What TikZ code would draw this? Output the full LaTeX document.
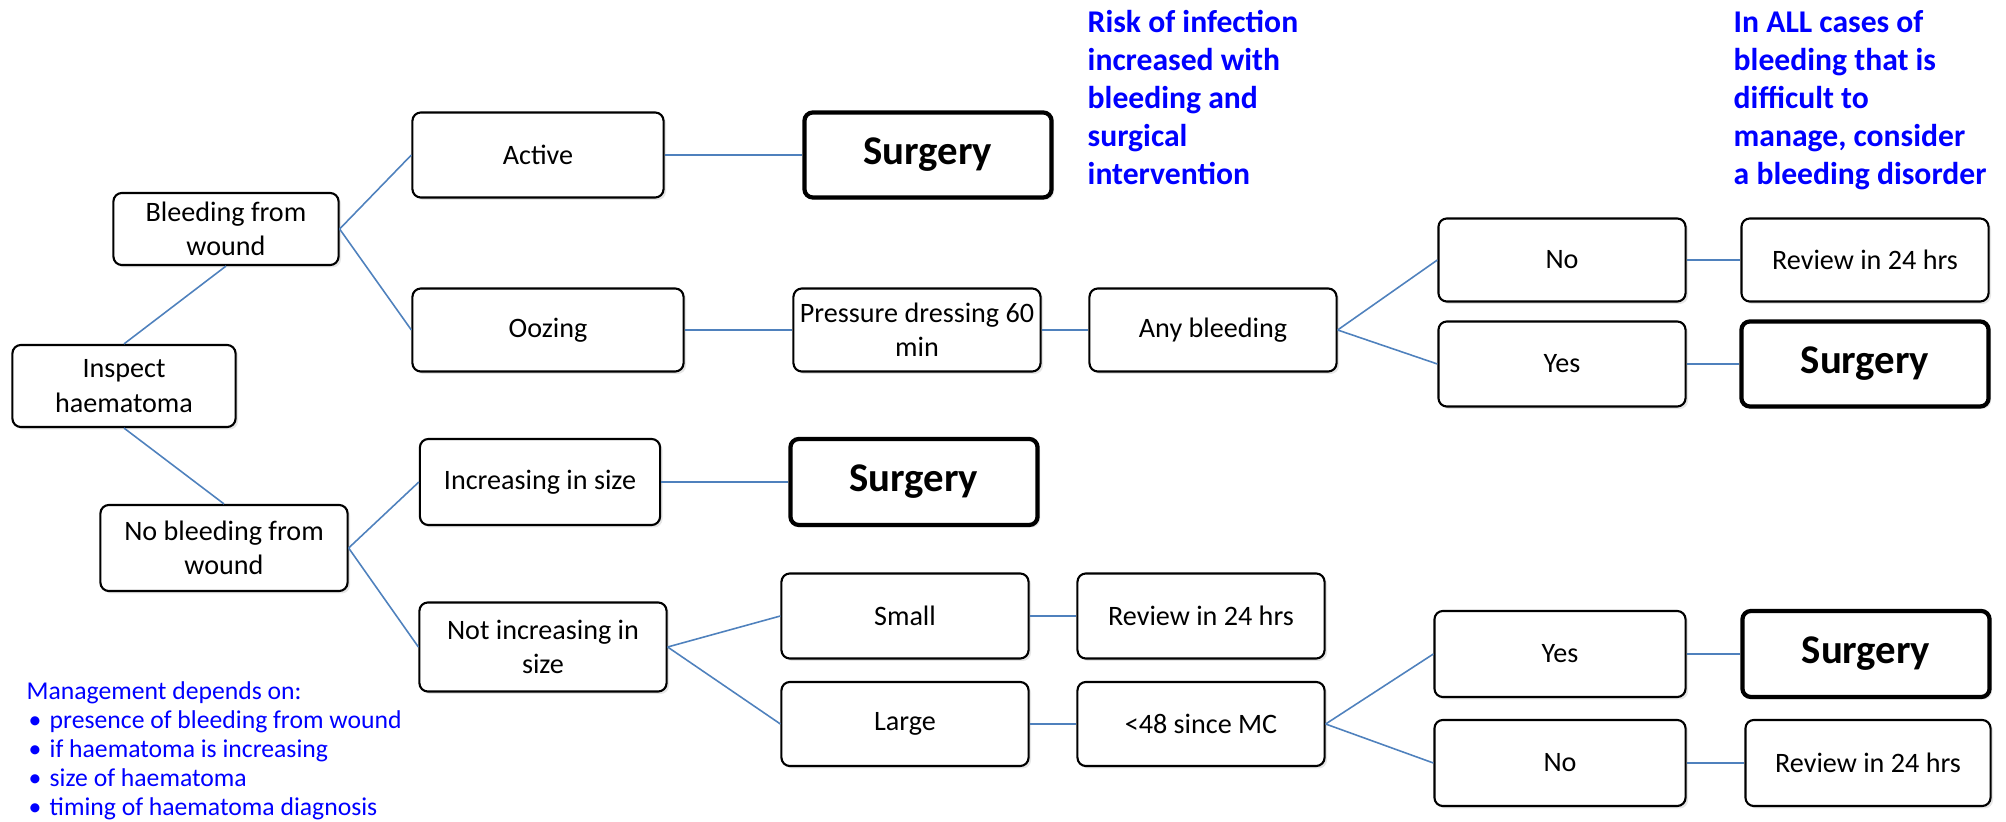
\documentclass[tikz,border=0pt]{standalone}
\usepackage{fontspec}
\setmainfont{Carlito}
\usetikzlibrary{shadows, positioning}
\definecolor{linkblue}{RGB}{79,129,189}

\begin{document}
\begin{tikzpicture}[x=0.01cm, y=-0.01cm,
   box/.style={draw, fill=white, rounded corners=2.4pt, line width=0.6pt, align=center,
      inner sep=1pt, minimum width=2.47cm, minimum height=0.84cm,
      font=\fontsize{8}{9.8}\selectfont,
      drop shadow={opacity=0.2, shadow xshift=0.7pt, shadow yshift=-0.7pt}},
   surgery/.style={box, line width=1.2pt, font=\fontsize{11.6}{13}\selectfont\bfseries},
   link/.style={draw=linkblue, line width=0.45pt},
   note/.style={text=blue, align=left, anchor=north west, inner sep=0pt,
      font=\fontsize{9}{10.8}\selectfont\bfseries},
   mgmt/.style={text=blue, align=left, anchor=north west, inner sep=0pt,
      font=\fontsize{7.3}{8.25}\selectfont}]
   \useasboundingbox (0,0) rectangle (2006,822);
   % first level
   \node[box, minimum width=2.23cm, minimum height=0.82cm] (insp) at (124,386) {Inspect\\haematoma};
   \node[box, minimum width=2.25cm, minimum height=0.72cm] (bleed) at (226,229) {Bleeding from\\wound};
   \node[box, minimum height=0.86cm] (nobleed) at (224,548) {No bleeding from\\wound};
   % bleeding from wound
   \node[box, minimum width=2.51cm, minimum height=0.85cm] (active) at (538,155) {Active};
   \node[surgery, minimum height=0.85cm] (surgA) at (928,155) {Surgery};
   \node[box, minimum width=2.71cm, minimum height=0.83cm] (ooze) at (548,330) {Oozing};
   \node[box, minimum height=0.83cm] (press) at (917,330) {Pressure dressing 60\\min};
   \node[box, minimum height=0.83cm] (anybl) at (1213,330) {Any bleeding};
   \node[box, minimum height=0.83cm] (noA) at (1562,260) {No};
   \node[box, minimum height=0.83cm] (reviewA) at (1865,260) {Review in 24 hrs};
   \node[box, minimum height=0.85cm] (yesA) at (1562,364) {Yes};
   \node[surgery, minimum height=0.85cm] (surgB) at (1865,364) {Surgery};
   % no bleeding from wound
   \node[box, minimum width=2.4cm, minimum height=0.86cm] (incr) at (540,482) {Increasing in size};
   \node[surgery, minimum height=0.86cm] (surgC) at (914,482) {Surgery};
   \node[box, minimum height=0.89cm] (notincr) at (543,647) {Not increasing in\\size};
   \node[box, minimum height=0.85cm] (small) at (905,616) {Small};
   \node[box, minimum height=0.85cm] (reviewB) at (1201,616) {Review in 24 hrs};
   \node[box] (large) at (905,724) {Large};
   \node[box] (lt48) at (1201,724) {<48 since MC};
   \node[box, minimum width=2.51cm, minimum height=0.86cm] (yesB) at (1560,654) {Yes};
   \node[surgery, minimum height=0.86cm] (surgD) at (1866,654) {Surgery};
   \node[box, minimum width=2.51cm, minimum height=0.86cm] (noB) at (1560,763) {No};
   \node[box, minimum width=2.45cm, minimum height=0.86cm] (reviewC) at (1868,763) {Review in 24 hrs};
   % connectors
   \draw[link] (insp.north) -- (bleed.south);
   \draw[link] (insp.south) -- (nobleed.north);
   \draw[link] (bleed.east) -- (active.west);
   \draw[link] (bleed.east) -- (ooze.west);
   \draw[link] (active.east) -- (surgA.west);
   \draw[link] (ooze.east) -- (press.west);
   \draw[link] (press.east) -- (anybl.west);
   \draw[link] (anybl.east) -- (noA.west);
   \draw[link] (anybl.east) -- (yesA.west);
   \draw[link] (noA.east) -- (reviewA.west);
   \draw[link] (yesA.east) -- (surgB.west);
   \draw[link] (nobleed.east) -- (incr.west);
   \draw[link] (nobleed.east) -- (notincr.west);
   \draw[link] (incr.east) -- (surgC.west);
   \draw[link] (notincr.east) -- (small.west);
   \draw[link] (notincr.east) -- (large.west);
   \draw[link] (small.east) -- (reviewB.west);
   \draw[link] (large.east) -- (lt48.west);
   \draw[link] (lt48.east) -- (yesB.west);
   \draw[link] (lt48.east) -- (noB.west);
   \draw[link] (yesB.east) -- (surgD.west);
   \draw[link] (noB.east) -- (reviewC.west);
   % notes
   \node[note] (risk) at (1087,10) {Risk of infection\\increased with\\bleeding and\\surgical\\intervention};
   \node[note] (disorder) at (1733,10) {In ALL cases of\\bleeding that is\\difficult to\\manage, consider\\a bleeding disorder};
   \node[mgmt] (manage) at (26,681) {Management depends on:\\
      \hspace*{0.02cm}\makebox[0.21cm][l]{\textbullet}presence of bleeding from wound\\
      \hspace*{0.02cm}\makebox[0.21cm][l]{\textbullet}if haematoma is increasing\\
      \hspace*{0.02cm}\makebox[0.21cm][l]{\textbullet}size of haematoma\\
      \hspace*{0.02cm}\makebox[0.21cm][l]{\textbullet}timing of haematoma diagnosis};
\end{tikzpicture}
\end{document}
